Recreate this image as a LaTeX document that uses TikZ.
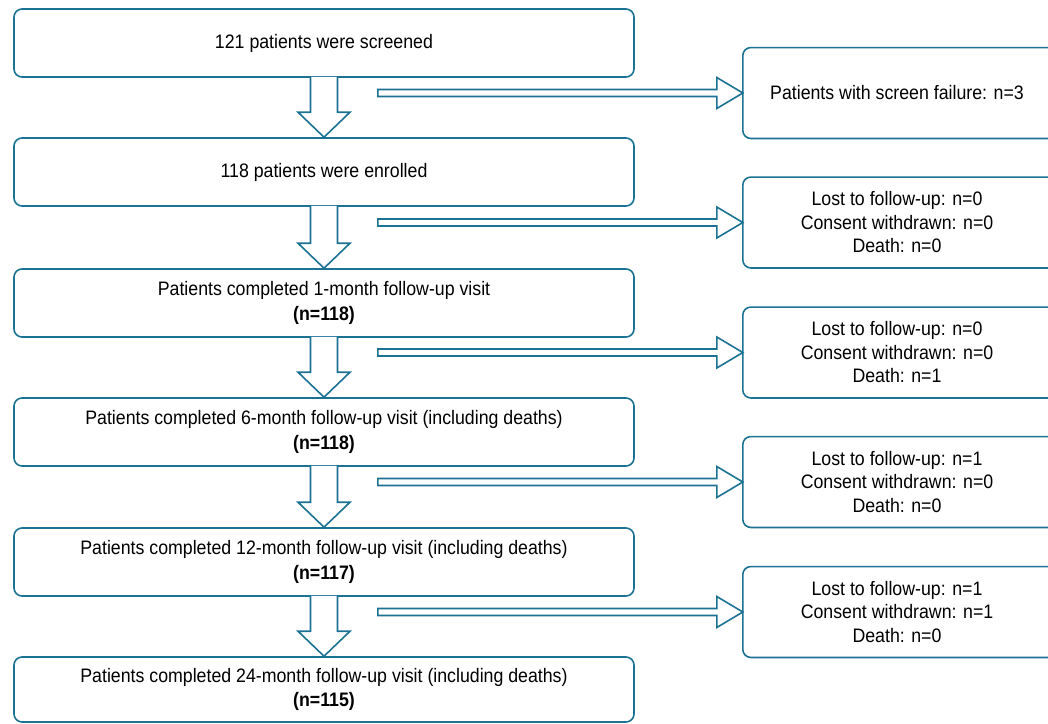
\documentclass[tikz,border=0pt]{standalone}
\usepackage{fontspec}
\setmainfont[FakeStretch=0.91]{Liberation Sans}
\usetikzlibrary{calc}
\definecolor{teal1}{HTML}{1B7293}
\begin{document}
\begin{tikzpicture}[x=1pt,y=-1pt,
  lbox/.style={draw=teal1, line width=1.6pt, rounded corners=8pt, minimum width=620pt, minimum height=68pt, align=center, inner sep=0pt, font=\fontsize{19.5}{24.5}\selectfont},
  rbox/.style={minimum width=308pt, minimum height=90.5pt, align=center, inner sep=0pt, font=\fontsize{19.5}{23.5}\selectfont},
  rborder/.style={draw=teal1, line width=1.6pt, rounded corners=8pt},
  barrow/.style={draw=teal1, line width=1.6pt, fill=white, line join=miter}]
\useasboundingbox (0,0) rectangle (1048,723);
\clip (0,0) rectangle (1048,723);

\node[lbox] (b1) at (324,43) {121 patients were screened};
\node[lbox] (b2) at (324,172) {118 patients were enrolled};
\node[lbox] (b3) at (324,303) {Patients completed 1-month follow-up visit\\\textbf{(n=118)}};
\node[lbox] (b4) at (324,432) {Patients completed 6-month follow-up visit (including deaths)\\\textbf{(n=118)}};
\node[lbox] (b5) at (324,562) {Patients completed 12-month follow-up visit (including deaths)\\\textbf{(n=117)}};
\node[lbox, minimum height=65pt] (b6) at (324,689.5) {Patients completed 24-month follow-up visit (including deaths)\\\textbf{(n=115)}};

\node[rbox] (r1) at (897,93) {Patients with screen failure: n=3};
\node[rbox] (r2) at (897,222.5) {Lost to follow-up: n=0\\Consent withdrawn: n=0\\Death: n=0};
\node[rbox] (r3) at (897,352.5) {Lost to follow-up: n=0\\Consent withdrawn: n=0\\Death: n=1};
\node[rbox] (r4) at (897,482) {Lost to follow-up: n=1\\Consent withdrawn: n=0\\Death: n=0};
\node[rbox] (r5) at (897,612) {Lost to follow-up: n=1\\Consent withdrawn: n=1\\Death: n=0};

\foreach \r in {r1,r2,r3,r4,r5}{
  \draw[rborder] ($(\r.north east)+(30,0)$) -- (\r.north west) -- (\r.south west) -- ($(\r.south east)+(30,0)$);
  \draw[barrow] let \p1=(\r.west) in
    (\x1-365pt,\y1+3.5pt) -- (\x1-26pt,\y1+3.5pt) -- (\x1-26pt,\y1+15.5pt) -- (\p1)
    -- (\x1-26pt,\y1-15.5pt) -- (\x1-26pt,\y1-3.5pt) -- (\x1-365pt,\y1-3.5pt) -- cycle;
}

\foreach \a/\b in {b1/b2,b2/b3,b3/b4,b4/b5,b5/b6}{
  \draw[barrow] let \p1=(\a.south), \p2=(\b.north) in
    (\x1-13.5pt,\y1+1pt) -- (\x1-13.5pt,\y2+25pt) -- (\x1-26pt,\y2+25pt) -- (\x2,\y2)
    -- (\x1+26pt,\y2+25pt) -- (\x1+13.5pt,\y2+25pt) -- (\x1+13.5pt,\y1+1pt);
}
\end{tikzpicture}
\end{document}
